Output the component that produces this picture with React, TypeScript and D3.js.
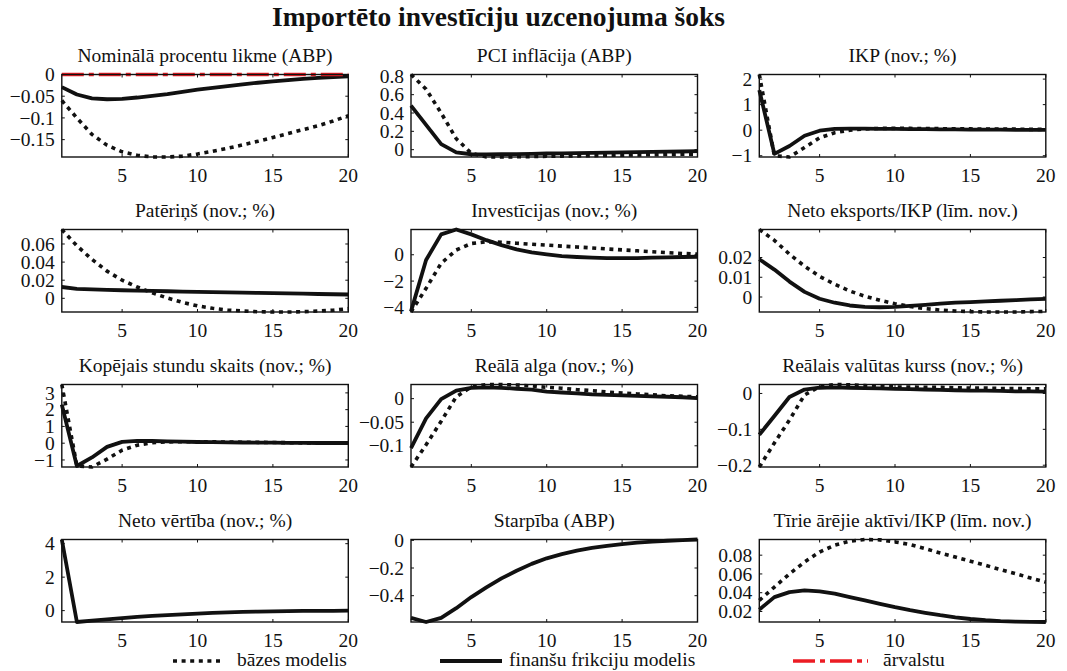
import React from "react";
import * as d3 from "d3";

// Quarters after the shock
const periods = [1, 2, 3, 4, 5, 6, 7, 8, 9, 10, 11, 12, 13, 14, 15, 16, 17, 18, 19, 20];
const xTicks = [5, 10, 15, 20];

// Nominālā procentu likme (ABP)
const rateFin = [-0.029, -0.046, -0.055, -0.057, -0.056, -0.053, -0.049, -0.045, -0.040, -0.035, -0.031, -0.027, -0.023, -0.019, -0.016, -0.013, -0.010, -0.008, -0.006, -0.004];
const rateBase = [-0.060, -0.100, -0.138, -0.163, -0.178, -0.186, -0.190, -0.190, -0.188, -0.183, -0.177, -0.170, -0.162, -0.154, -0.145, -0.136, -0.127, -0.118, -0.107, -0.095];
const rateForeign = [0, 0, 0, 0, 0, 0, 0, 0, 0, 0, 0, 0, 0, 0, 0, 0, 0, 0, 0, 0];

// PCI inflācija (ABP)
const inflFin = [0.48, 0.27, 0.06, -0.03, -0.05, -0.052, -0.05, -0.048, -0.045, -0.042, -0.04, -0.037, -0.035, -0.032, -0.03, -0.027, -0.025, -0.022, -0.02, -0.015];
const inflBase = [0.82, 0.66, 0.40, 0.12, -0.04, -0.08, -0.08, -0.078, -0.075, -0.072, -0.07, -0.068, -0.065, -0.062, -0.06, -0.057, -0.055, -0.052, -0.05, -0.048];

// IKP
const gdpFin = [1.57, -0.93, -0.62, -0.22, -0.02, 0.05, 0.06, 0.06, 0.05, 0.05, 0.04, 0.04, 0.03, 0.03, 0.02, 0.02, 0.02, 0.01, 0.01, 0.01];
const gdpBase = [2.18, -1.0, -1.05, -0.68, -0.3, -0.1, 0.0, 0.05, 0.07, 0.07, 0.07, 0.06, 0.06, 0.05, 0.05, 0.04, 0.04, 0.04, 0.03, 0.03];

// Patēriņš
const consFin = [0.0125, 0.0105, 0.0098, 0.0093, 0.0089, 0.0085, 0.0082, 0.0078, 0.0075, 0.0072, 0.0069, 0.0066, 0.0063, 0.006, 0.0057, 0.0054, 0.0051, 0.0048, 0.0045, 0.0042];
const consBase = [0.076, 0.058, 0.043, 0.030, 0.020, 0.0125, 0.006, 0.0004, -0.0045, -0.0083, -0.011, -0.0129, -0.014, -0.0148, -0.0151, -0.0151, -0.0148, -0.014, -0.0132, -0.0114];

// Investīcijas
const invFin = [-4.3, -0.4, 1.55, 1.92, 1.55, 1.11, 0.73, 0.41, 0.18, 0.03, -0.1, -0.17, -0.22, -0.25, -0.25, -0.25, -0.22, -0.2, -0.17, -0.15];
const invBase = [-4.35, -2.55, -0.65, 0.36, 0.86, 0.98, 0.95, 0.88, 0.8, 0.73, 0.66, 0.59, 0.52, 0.44, 0.37, 0.30, 0.23, 0.16, 0.10, 0.05];

// Neto eksports/IKP
const nxFin = [0.0191, 0.0139, 0.0078, 0.0026, -0.0009, -0.0029, -0.0043, -0.0050, -0.0052, -0.0050, -0.0045, -0.0040, -0.0034, -0.0029, -0.0026, -0.0022, -0.0019, -0.0016, -0.0012, -0.0010];
const nxBase = [0.0342, 0.0287, 0.0217, 0.0156, 0.0104, 0.0065, 0.0030, 0.0004, -0.0017, -0.0034, -0.0048, -0.0059, -0.0066, -0.0071, -0.0074, -0.0076, -0.0076, -0.0076, -0.0074, -0.0073];

// Kopējais stundu skaits
const hoursFin = [2.3, -1.36, -0.85, -0.22, 0.08, 0.14, 0.13, 0.11, 0.09, 0.07, 0.06, 0.05, 0.04, 0.03, 0.03, 0.02, 0.02, 0.01, 0.01, 0.01];
const hoursBase = [3.5, -1.35, -1.42, -0.95, -0.42, -0.12, 0.03, 0.08, 0.09, 0.09, 0.08, 0.07, 0.06, 0.05, 0.04, 0.03, 0.02, 0.02, 0.01, 0.0];

// Reālā alga
const wageFin = [-0.105, -0.042, -0.001, 0.017, 0.023, 0.024, 0.023, 0.021, 0.019, 0.015, 0.013, 0.011, 0.009, 0.008, 0.007, 0.006, 0.005, 0.004, 0.003, 0.001];
const wageBase = [-0.145, -0.098, -0.048, 0.004, 0.025, 0.030, 0.030, 0.029, 0.027, 0.024, 0.022, 0.019, 0.017, 0.014, 0.012, 0.010, 0.008, 0.006, 0.005, 0.004];

// Reālais valūtas kurss
const rerFin = [-0.115, -0.063, -0.01, 0.011, 0.016, 0.017, 0.016, 0.015, 0.014, 0.013, 0.012, 0.011, 0.010, 0.009, 0.008, 0.008, 0.007, 0.006, 0.006, 0.005];
const rerBase = [-0.205, -0.138, -0.074, -0.004, 0.019, 0.025, 0.024, 0.022, 0.020, 0.018, 0.018, 0.017, 0.017, 0.016, 0.015, 0.015, 0.014, 0.014, 0.013, 0.013];

// Neto vērtība
const netWorthFin = [4.25, -0.68, -0.60, -0.52, -0.45, -0.38, -0.32, -0.27, -0.22, -0.18, -0.14, -0.11, -0.08, -0.06, -0.04, -0.03, -0.02, -0.01, -0.01, 0.0];

// Starpība
const spreadFin = [-0.56, -0.59, -0.56, -0.49, -0.41, -0.34, -0.275, -0.22, -0.17, -0.13, -0.1, -0.075, -0.055, -0.04, -0.027, -0.017, -0.009, -0.003, 0.002, 0.006];

// Tīrie ārējie aktīvi/IKP
const nfaFin = [0.022, 0.0353, 0.0406, 0.0425, 0.0414, 0.039, 0.0353, 0.0318, 0.0282, 0.0246, 0.0214, 0.0186, 0.016, 0.0138, 0.012, 0.0107, 0.0098, 0.0093, 0.0090, 0.0088];
const nfaBase = [0.0318, 0.046, 0.060, 0.0727, 0.0834, 0.0906, 0.0949, 0.0967, 0.0963, 0.0941, 0.0913, 0.087, 0.0823, 0.078, 0.0735, 0.0692, 0.0646, 0.0603, 0.0556, 0.0513];

const titles = [
  "Nominālā procentu likme (ABP)",
  "PCI inflācija (ABP)",
  "IKP (nov.; %)",
  "Patēriņš (nov.; %)",
  "Investīcijas (nov.; %)",
  "Neto eksports/IKP (līm. nov.)",
  "Kopējais stundu skaits (nov.; %)",
  "Reālā alga (nov.; %)",
  "Reālais valūtas kurss (nov.; %)",
  "Neto vērtība (nov.; %)",
  "Starpība (ABP)",
  "Tīrie ārējie aktīvi/IKP (līm. nov.)",
];

const yTickSets = [
  [-0.15, -0.1, -0.05, 0],
  [0, 0.2, 0.4, 0.6, 0.8],
  [-1, 0, 1, 2],
  [0, 0.02, 0.04, 0.06],
  [-4, -2, 0],
  [0, 0.01, 0.02],
  [-1, 0, 1, 2, 3],
  [-0.1, -0.05, 0],
  [-0.2, -0.1, 0],
  [0, 2, 4],
  [-0.4, -0.2, 0],
  [0.02, 0.04, 0.06, 0.08],
];

const baseSeries = [rateBase, inflBase, gdpBase, consBase, invBase, nxBase, hoursBase, wageBase, rerBase, null, null, nfaBase];
const finSeries = [rateFin, inflFin, gdpFin, consFin, invFin, nxFin, hoursFin, wageFin, rerFin, netWorthFin, spreadFin, nfaFin];
const foreignSeries = [rateForeign, null, null, null, null, null, null, null, null, null, null, null];

const legendLabels = ["bāzes modelis", "finanšu frikciju modelis", "ārvalstu"];
const mainTitle = "Importēto investīciju uzcenojuma šoks";

const W = 1067;
const H = 671;
const FONT = "'Liberation Serif', 'Times New Roman', serif";
const INK = "#111";
const RED = "#ec1c24";
const colLeft = [61.8, 411, 759.3];
const rowTop = [74.5, 229.5, 384.5, 539.5];
const plotW = 286.5;
const plotH = 82.5;
const tickLen = 3;
const fontSize = 19.5;

const fmt = (v: number) => String(+v.toFixed(4)).replace("-", "\u2212");

const baseStyle = { stroke: INK, strokeWidth: 3.6, strokeDasharray: "4 4.6", fill: "none" };
const finStyle = { stroke: INK, strokeWidth: 3.8, fill: "none", strokeLinejoin: "round" as const };
const foreignStyle = { stroke: RED, strokeWidth: 3.4, strokeDasharray: "22 5 5 5", fill: "none" };

function Panel({ idx }: { idx: number }) {
  const col = idx % 3;
  const row = Math.floor(idx / 3);
  const x0 = colLeft[col];
  const y0 = rowTop[row];
  const base = baseSeries[idx];
  const fin = finSeries[idx];
  const foreign = foreignSeries[idx];
  const all = [base, fin, foreign].filter(Boolean).flat() as number[];
  const [lo, hi] = d3.extent(all) as [number, number];

  const x = d3.scaleLinear().domain([1, 20]).range([x0, x0 + plotW]);
  const y = d3.scaleLinear().domain([lo, hi]).range([y0 + plotH, y0]);
  const line = d3
    .line<number>()
    .x((_, i) => x(periods[i]))
    .y((d) => y(d));

  const bottom = y0 + plotH;
  const right = x0 + plotW;

  return (
    <g>
      <text x={x0 + plotW / 2} y={y0 - 12.5} textAnchor="middle" fontSize={fontSize} fill={INK}>
        {titles[idx]}
      </text>
      {base && <path d={line(base) || ""} {...baseStyle} />}
      {fin && <path d={line(fin) || ""} {...finStyle} />}
      {foreign && <path d={line(foreign) || ""} {...foreignStyle} />}
      <rect x={x0} y={y0} width={plotW} height={plotH} fill="none" stroke={INK} strokeWidth={1.4} />
      {xTicks.map((t) => (
        <g key={"x" + t}>
          <line x1={x(t)} x2={x(t)} y1={bottom} y2={bottom - tickLen} stroke={INK} strokeWidth={1} />
          <line x1={x(t)} x2={x(t)} y1={y0} y2={y0 + tickLen} stroke={INK} strokeWidth={1} />
          <text x={x(t)} y={bottom + 24.5} textAnchor="middle" fontSize={fontSize} fill={INK}>
            {t}
          </text>
        </g>
      ))}
      {yTickSets[idx].map((t) => (
        <g key={"y" + t}>
          <line x1={x0} x2={x0 + tickLen} y1={y(t)} y2={y(t)} stroke={INK} strokeWidth={1} />
          <line x1={right} x2={right - tickLen} y1={y(t)} y2={y(t)} stroke={INK} strokeWidth={1} />
          <text x={x0 - 7} y={y(t)} dy="0.34em" textAnchor="end" fontSize={fontSize} fill={INK}>
            {fmt(t)}
          </text>
        </g>
      ))}
    </g>
  );
}

export default function App() {
  const legendY = 661;
  return (
    <svg
      width={W}
      height={H}
      viewBox={`0 0 ${W} ${H}`}
      style={{ position: "absolute", left: 0, top: 0, background: "#fff" }}
      fontFamily={FONT}
    >
      <rect width={W} height={H} fill="#fff" />
      <text x={498.5} y={26} textAnchor="middle" fontSize={27.5} fontWeight="bold" fill={INK}>
        {mainTitle}
      </text>
      {titles.map((_, i) => (
        <Panel key={i} idx={i} />
      ))}
      <g>
        <line x1={173} x2={220} y1={legendY} y2={legendY} {...baseStyle} />
        <text x={237} y={legendY + 5} fontSize={fontSize} fill={INK}>{legendLabels[0]}</text>
        <line x1={440} x2={502} y1={legendY} y2={legendY} {...finStyle} />
        <text x={509} y={legendY + 5} fontSize={fontSize} fill={INK}>{legendLabels[1]}</text>
        <line x1={793} x2={868} y1={legendY} y2={legendY} {...foreignStyle} />
        <text x={883} y={legendY + 5} fontSize={fontSize} fill={INK}>{legendLabels[2]}</text>
      </g>
    </svg>
  );
}
